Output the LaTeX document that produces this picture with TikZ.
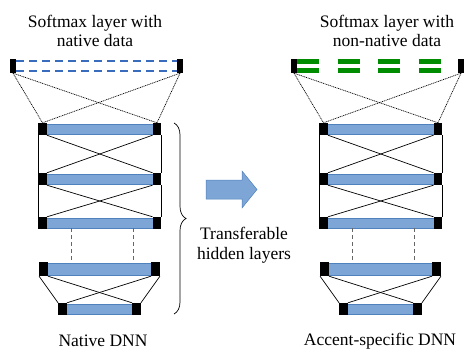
\documentclass[tikz,border=0pt]{standalone}
\usepackage{fontspec}
\setmainfont{Liberation Serif}
\usetikzlibrary{calc, decorations.pathreplacing}

\definecolor{barfill}{RGB}{125,165,214}
\definecolor{barline}{RGB}{79,129,189}
\definecolor{smblue}{RGB}{58,108,190}
\definecolor{smgreen}{RGB}{0,140,0}

\tikzset{
    caption/.style={font=\rmfamily\fontsize{17.5}{19.5}\selectfont, align=center, inner sep=0pt},
    bar/.style={rectangle, fill=barfill, draw=barline, line width=0.5pt, inner sep=0pt},
    unit/.style={rectangle, fill=black, inner sep=0pt, minimum width=8.5pt},
    link/.style={line width=0.7pt},
    smlink/.style={line width=0.7pt, dash pattern=on 1pt off 0.8pt},
    gap/.style={line width=0.8pt, gray!80!black, dash pattern=on 4pt off 3pt},
    nativesm/.style={line width=2pt, smblue, dash pattern=on 8pt off 5pt},
    accentsm/.style={line width=5pt, smgreen, dash pattern=on 22pt off 18.5pt}
}

\begin{document}
\begin{tikzpicture}[x=1pt, y=-1pt]
    \useasboundingbox (0,0) rectangle (465,350);

    \foreach \n/\dx/\sm in {a/0/nativesm, b/281/accentsm} {
    \begin{scope}[xshift=\dx]
        % Softmax layer
        \node[unit, minimum width=6pt, minimum height=14pt] (\n0L) at (13,66) {};
        \node[unit, minimum width=6pt, minimum height=14pt] (\n0R) at (180,66) {};
        \draw[\sm] ([yshift=-2.5pt]\n0L.north east) -- ([yshift=-2.5pt]\n0R.north west);
        \draw[\sm] ([yshift=2.5pt]\n0L.south east) -- ([yshift=2.5pt]\n0R.south west);

        % Hidden layers
        \foreach \i/\y/\xl/\xr/\h in {1/129/42.5/157/12, 2/179/42.5/157/12, 3/223/42.5/157/12,
                                     4/269/43.5/155.5/14, 5/309/62.5/136.5/12} {
            \node[bar, minimum width=\xr-\xl, minimum height=\h-2] (\n\i) at ({(\xl+\xr)/2},\y) {};
            \node[unit, minimum height=\h] (\n\i L) at (\xl,\y) {};
            \node[unit, minimum height=\h] (\n\i R) at (\xr,\y) {};
        }

        % Softmax to first hidden layer
        \draw[smlink] (\n0L.south) -- (\n1L.north);
        \draw[smlink] (\n0L.south) -- (\n1R.north);
        \draw[smlink] (\n0R.south) -- (\n1L.north);
        \draw[smlink] (\n0R.south) -- (\n1R.north);

        % Full connections
        \foreach \i/\j in {1/2, 2/3, 4/5} {
            \draw[link] (\n\i L.south west) -- (\n\j L.north west);
            \draw[link] (\n\i R.south east) -- (\n\j R.north east);
            \draw[link] (\n\i L.south east) -- (\n\j R.north west);
            \draw[link] (\n\i R.south west) -- (\n\j L.north east);
        }

        % Omitted layers
        \coordinate (\n gapL) at ($(\n3.south west)!0.25!(\n3.south east)$);
        \coordinate (\n gapR) at ($(\n3.south west)!0.79!(\n3.south east)$);
        \draw[gap] (\n gapL) -- (\n gapL |- \n4.north);
        \draw[gap] (\n gapR) -- (\n gapR |- \n4.north);
    \end{scope}
    }

    % Titles
    \node[caption] (smA) at (95,31) {Softmax layer with\\native data};
    \node[caption] (smB) at (387,31) {Softmax layer with\\non-native data};
    \node[caption] (netA) at (103,341) {Native DNN};
    \node[caption] (netB) at (380,341) {Accent-specific DNN};

    % Brace over the hidden layers
    \coordinate (braceTop) at (174,123);
    \coordinate (braceBot) at (174,314);
    \draw[line width=0.7pt, decorate, decoration={brace, amplitude=12pt}]
        (braceTop) -- (braceBot);
    \node[caption] (shared) at (244,245) {Transferable\\hidden layers};

    % Transfer arrow
    \draw[barline, fill=barfill, line width=0.5pt]
        (206,180) -- (242,180) -- (242,171) -- (257,189.5) -- (242,208)
        -- (242,199) -- (206,199) -- cycle;
\end{tikzpicture}
\end{document}
